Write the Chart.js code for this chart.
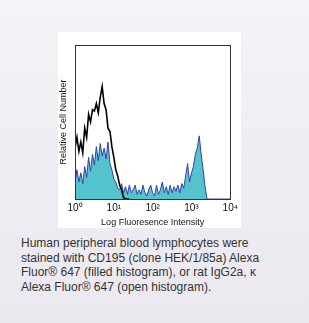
<!DOCTYPE html>
<html>
<head>
<meta charset="utf-8">
<script src="https://cdn.jsdelivr.net/npm/chart.js@4/dist/chart.umd.min.js"></script>
<style>
  html, body { margin: 0; padding: 0; }
  body {
    width: 309px; height: 323px; overflow: hidden; position: relative;
    background: linear-gradient(#f4f3f7, #ebe8f0);
    font-family: "Liberation Sans", Arial, sans-serif;
  }
  #panel {
    position: absolute; left: 58px; top: 32px; width: 183px; height: 196px;
    background: #fff;
  }
  #caption {
    position: absolute; left: 21px; top: 236px;
    font-size: 12px; line-height: 14.5px; color: #333;
    white-space: nowrap;
  }
</style>
</head>
<body>
<div id="panel"><canvas id="histChart" width="183" height="196"></canvas></div>
<div id="caption">
  Human peripheral blood lymphocytes were<br>
  stained with CD195 (clone HEK/1/85a) Alexa<br>
  Fluor® 647 (filled histogram), or rat IgG2a, κ<br>
  Alexa Fluor® 647 (open histogram).
</div>
<script>
// channel positions in decades (log10 of fluorescence)
const decades = [0.00,0.05,0.10,0.15,0.20,0.25,0.30,0.35,0.40,0.45,
  0.50,0.55,0.60,0.65,0.70,0.75,0.80,0.85,0.90,0.95,
  1.00,1.05,1.10,1.15,1.20,1.25,1.30,1.35,1.40,1.45,
  1.50,1.55,1.60,1.65,1.70,1.75,1.80,1.85,1.90,1.95,
  2.00,2.05,2.10,2.15,2.20,2.25,2.30,2.35,2.40,2.45,
  2.50,2.55,2.60,2.65,2.70,2.75,2.80,2.85,2.90,2.95,
  3.00,3.05,3.10,3.15,3.20,3.25,3.30,3.35,3.40,3.45,
  3.50,3.55,3.60,3.65,3.70,3.75,3.80,3.85,3.90,3.95,4.00];

// CD195 Alexa Fluor 647 (filled)
const filledCounts = [10,19,11,17,10,21,14,27,18,29,
  22,34,25,36,28,33,26,37,23,19,
  13,11,7,6,10,4,8,3,9,4,
  6,9,3,6,3,9,4,2,6,9,
  4,2,9,3,6,11,4,8,3,9,
  4,8,5,9,4,10,7,15,23,11,
  17,21,29,33,41,29,19,8,0,0,
  0,0,0,0,0,0,0,0,0,0,0];

// rat IgG2a isotype (open)
const openCounts = [33,40,31,37,30,46,40,55,50,58,
  57,62,56,66,73,62,58,46,44,34,
  27,19,15,9,6,1,0,0,0,null,
  null,null,null,null,null,null,null,null,null,null,
  null,null,null,null,null,null,null,null,null,null,
  null,null,null,null,null,null,null,null,null,null,
  null,null,null,null,null,null,null,null,null,null,
  null,null,null,null,null,null,null,null,null,null,null];

const tickValues = [1, 10, 100, 1000, 10000];
const tickLabels = ['10⁰', '10¹', '10²', '10³', '10⁴'];

const toPoints = arr => arr.map((v, i) => ({ x: Math.pow(10, decades[i]), y: v }));

const boxPlugin = {
  id: 'box',
  afterDraw(chart) {
    const a = chart.chartArea, c = chart.ctx;
    c.save();
    c.strokeStyle = '#333';
    c.lineWidth = 1;
    c.strokeRect(Math.round(a.left) + 0.5, Math.round(a.top) + 0.5,
      Math.round(a.right - a.left), Math.round(a.bottom - a.top));
    c.restore();
  }
};

new Chart(document.getElementById('histChart'), {
  type: 'line',
  data: {
    datasets: [
      {
        data: toPoints(openCounts),
        borderColor: '#000',
        borderWidth: 1.6,
        pointRadius: 0,
        fill: false,
        tension: 0,
        spanGaps: false
      },
      {
        data: toPoints(filledCounts),
        borderColor: '#3342a8',
        backgroundColor: '#55c3cd',
        borderWidth: 1,
        pointRadius: 0,
        fill: 'origin',
        tension: 0
      }
    ]
  },
  options: {
    responsive: false,
    animation: false,
    layout: { padding: { top: 13, right: 9, left: 0, bottom: 0 } },
    plugins: { legend: { display: false }, tooltip: { enabled: false } },
    scales: {
      x: {
        type: 'logarithmic',
        min: 1, max: 10000,
        afterBuildTicks: s => { s.ticks = tickValues.map(v => ({ value: v })); },
        afterFit: s => { s.height = 29; },
        grid: { display: false, drawTicks: false },
        border: { display: false },
        ticks: {
          padding: 3,
          maxRotation: 0,
          color: '#111',
          font: { family: 'Liberation Sans', size: 10 },
          callback: (v, i) => tickLabels[i]
        },
        title: {
          display: true,
          text: 'Log Fluoresence Intensity',
          color: '#111',
          font: { family: 'Liberation Sans', size: 9 },
          padding: { top: 0, bottom: 0 }
        }
      },
      y: {
        min: 0, max: 100,
        afterFit: s => { s.width = 17; },
        grid: { display: false, drawTicks: false },
        border: { display: false },
        ticks: { display: false },
        title: {
          display: true,
          text: 'Relative Cell Number',
          color: '#111',
          font: { family: 'Liberation Sans', size: 9 },
          padding: { top: 0, bottom: 2 }
        }
      }
    }
  },
  plugins: [boxPlugin]
});
</script>
</body>
</html>
